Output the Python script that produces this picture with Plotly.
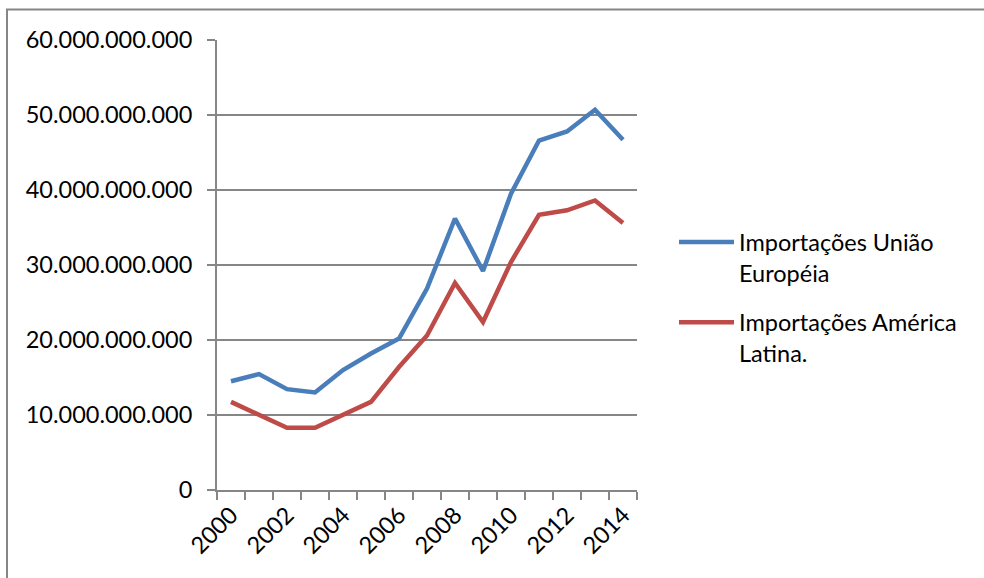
import plotly.graph_objects as go

# Annual imports (US$), 2000-2014
years = list(range(2000, 2015))
uniao_europeia = [14.5e9, 15.45e9, 13.45e9, 13.0e9, 16.0e9, 18.2e9, 20.2e9, 26.85e9,
                  36.2e9, 29.2e9, 39.5e9, 46.6e9, 47.8e9, 50.7e9, 46.7e9]
america_latina = [11.75e9, 10.1e9, 8.3e9, 8.3e9, 10.1e9, 11.75e9, 16.4e9, 20.6e9,
                  27.6e9, 22.4e9, 30.4e9, 36.7e9, 37.3e9, 38.6e9, 35.6e9]
series_names = ["Importações União<br>Européia", "Importações América<br>Latina."]
series_groups = ["ue", "al"]
series_colors = ["#4A7EBB", "#BE4B48"]
y_ticks = [0, 10e9, 20e9, 30e9, 40e9, 50e9, 60e9]
x_labels = list(range(2000, 2015, 2))

FONT = "Lato"
FS = 23.5
GRID = "#868686"

# plot area in pixels
L, R, T, B = 217, 637, 39.5, 490
W, H = 984, 578

fig = go.Figure()
for name, grp, vals, col in zip(series_names, series_groups,
                                [uniao_europeia, america_latina], series_colors):
    fig.add_trace(go.Scatter(x=years, y=vals, mode="lines", name=name, legendgroup=grp,
                             line=dict(color=col, width=4.5)))

def px_x(p):
    return (p - L) / (R - L)

def px_y(p):
    return (B - p) / (B - T)

# chart-area frame
fig.add_shape(type="rect", xref="paper", yref="paper",
              x0=px_x(7), x1=px_x(1000), y0=px_y(600), y1=px_y(9),
              line=dict(color=GRID, width=2), fillcolor="rgba(0,0,0,0)", layer="below")

fig.update_layout(
    width=W, height=H,
    margin=dict(l=L, r=W - R, t=T, b=H - B),
    paper_bgcolor="white", plot_bgcolor="white",
    separators=",.",
    font=dict(family=FONT, size=FS, color="#000000"),
    showlegend=True,
    legend=dict(x=px_x(674), y=px_y(220), xanchor="left", yanchor="top",
                valign="top", font=dict(family=FONT, size=FS, color="#000000"),
                tracegroupgap=16, bgcolor="rgba(0,0,0,0)", itemwidth=55),
    xaxis=dict(range=[1999.5, 2014.5], tickmode="array", tickvals=x_labels,
               ticktext=[str(v) for v in x_labels], tickangle=-45, ticks="",
               showgrid=False, showline=True, linecolor=GRID, linewidth=2,
               zeroline=False, fixedrange=True,
               minor=dict(tickmode="array", tickvals=[y - 0.5 for y in years] + [2014.5],
                          ticks="outside", ticklen=8, tickwidth=2, tickcolor=GRID,
                          showgrid=False),
               tickfont=dict(family=FONT, size=FS, color="#000000")),
    yaxis=dict(range=[0, 60e9], tickmode="array", tickvals=y_ticks, tickformat=",d",
               ticks="outside", ticklen=8, tickwidth=2, tickcolor=GRID,
               showgrid=True, gridcolor=GRID, gridwidth=2,
               showline=True, linecolor=GRID, linewidth=2, zeroline=False,
               fixedrange=True, ticklabelstandoff=10,
               tickfont=dict(family=FONT, size=FS, color="#000000")),
)

fig.write_html("out.html")
